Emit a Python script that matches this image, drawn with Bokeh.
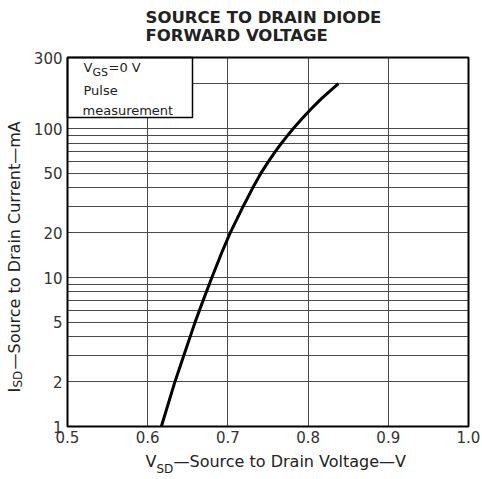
import math
from bokeh.plotting import figure
from bokeh.models import (FixedTicker, Label, BoxAnnotation, Range1d, BasicTickFormatter,
                          NumeralTickFormatter, LinearAxis, LogAxis, Grid)
from bokeh.embed import file_html
from bokeh.resources import INLINE

# ---- data ----
VSD = [0.617, 0.634, 0.645, 0.659, 0.669, 0.680, 0.693, 0.703, 0.719, 0.731,
       0.741, 0.7505, 0.759, 0.767, 0.7745, 0.7815, 0.7946, 0.8063, 0.8173, 0.8377]
ISD = [1, 2, 3, 5, 7, 10, 15, 20, 30, 40, 50, 60, 70, 80, 90, 100, 120, 140, 160, 200]

x_ticks = [0.5, 0.6, 0.7, 0.8, 0.9, 1.0]
y_ticks = [1, 2, 5, 10, 20, 50, 100, 300]
y_minor = [3, 4, 6, 7, 8, 9, 30, 40, 60, 70, 80, 90, 200]
x_lim = (0.5, 1.0)
y_lim = (1, 300)

title_lines = ["SOURCE TO DRAIN DIODE", "FORWARD VOLTAGE"]
note_lines = ["Pulse", "measurement"]

# ---- layout: canvas pixel -> data helpers (frame spans whole canvas) ----
FL, FR, FT, FB = 67, 468, 57, 426
def X(px):
    return x_lim[0] + (px - FL) * (x_lim[1] - x_lim[0]) / (FR - FL)
def Y(py):
    return 10 ** (math.log10(y_lim[0]) + (FB - py) * (math.log10(y_lim[1]) - math.log10(y_lim[0])) / (FB - FT))

W, H = 482, 479
p = figure(width=W, height=H, x_range=Range1d(X(0), X(W)), y_range=Range1d(Y(H), Y(0)),
           y_axis_type="log", x_axis_location=None, y_axis_location=None,
           output_backend="svg", toolbar_location=None, min_border=0)
p.background_fill_color = "white"
p.border_fill_color = "white"
p.outline_line_color = None
for g in p.grid:
    g.visible = False

GRID_COLOR = "#4a4a4a"
xtick = FixedTicker(ticks=x_ticks)
ytick = FixedTicker(ticks=y_ticks, minor_ticks=y_minor)

has_cross = "cross_bounds" in Grid.properties()
if has_cross:
    xg = Grid(dimension=0, ticker=xtick, grid_line_color=GRID_COLOR, grid_line_width=1,
              cross_bounds=y_lim)
    yg = Grid(dimension=1, ticker=ytick, grid_line_color=GRID_COLOR, grid_line_width=1,
              minor_grid_line_color=GRID_COLOR, minor_grid_line_width=1, cross_bounds=x_lim)
    p.add_layout(xg, "center")
    p.add_layout(yg, "center")
else:
    ys = y_ticks + y_minor
    p.segment(x0=[x_lim[0]] * len(ys), y0=ys, x1=[x_lim[1]] * len(ys), y1=ys,
              line_color=GRID_COLOR, line_width=1)
    p.segment(x0=x_ticks, y0=[y_lim[0]] * len(x_ticks), x1=x_ticks, y1=[y_lim[1]] * len(x_ticks),
              line_color=GRID_COLOR, line_width=1)

xaxis = LinearAxis(fixed_location=y_lim[0], bounds=x_lim, ticker=xtick,
                   formatter=NumeralTickFormatter(format="0.0"))
yaxis = LogAxis(fixed_location=x_lim[0], bounds=y_lim, ticker=ytick,
                formatter=BasicTickFormatter())
for ax in (xaxis, yaxis):
    ax.axis_line_color = None
    ax.major_tick_line_color = None
    ax.minor_tick_line_color = None
    ax.major_tick_out = 0
    ax.major_tick_in = 0
    ax.minor_tick_out = 0
    ax.minor_tick_in = 0
    ax.major_label_text_font = "DejaVu Sans"
    ax.major_label_text_font_size = "15px"
    ax.major_label_text_color = "#333333"
xaxis.major_label_standoff = 4
yaxis.major_label_standoff = 5
p.add_layout(xaxis, "below")
p.add_layout(yaxis, "left")

# curve
p.line(VSD, ISD, line_width=3, line_color="black", line_join="round")

# legend box
p.add_layout(BoxAnnotation(left=x_lim[0], right=X(192), bottom=Y(117), top=y_lim[1],
                           fill_color="white", fill_alpha=1.0,
                           line_color="black", line_alpha=1.0, line_width=1.5))
# plot frame
p.add_layout(BoxAnnotation(left=x_lim[0], right=x_lim[1], bottom=y_lim[0], top=y_lim[1],
                           fill_alpha=0, line_color="black", line_alpha=1.0, line_width=2))

def lab(text, px, py, size, angle=0, bold=False, align="left", color="#222222"):
    p.add_layout(Label(x=X(px), y=Y(py), text=text, text_font="DejaVu Sans",
                       text_font_size=f"{size}px", text_color=color,
                       text_font_style="bold" if bold else "normal",
                       text_align=align, text_baseline="middle", angle=angle))

# legend text
lab("V", 83, 67, 13)
lab("GS", 92, 71.5, 11)
lab("=0 V", 108, 67, 13)
lab(note_lines[0], 83, 90, 13)
lab(note_lines[1], 82, 109.5, 13)

# title
lab(title_lines[0], 145, 16.5, 16.5, bold=True)
lab(title_lines[1], 145, 34.5, 16.5, bold=True)

# x axis label
lab("V", 145, 461, 16)
lab("SD", 156, 468, 12)
lab("\u2014Source to Drain Voltage\u2014V", 173, 461, 16)

# y axis label (rotated)
ang = math.pi / 2
lab("I", 14, 392, 16, angle=ang)
lab("SD", 17.5, 387, 12, angle=ang)
lab("\u2014Source to Drain Current\u2014mA", 14, 369, 16, angle=ang)

open("out.html", "w").write(file_html(p, INLINE))
